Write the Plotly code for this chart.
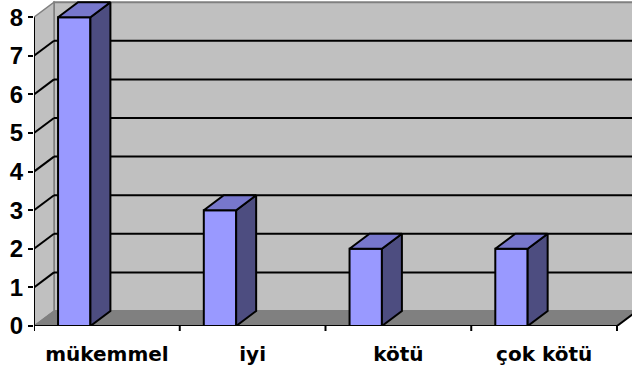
import plotly.graph_objects as go

# Survey results
categories = ["mükemmel", "iyi", "kötü", "çok kötü"]
values = [8, 3, 2, 2]
y_ticks = [0, 1, 2, 3, 4, 5, 6, 7, 8]

# Pseudo-3D geometry (data units)
DX = 0.1372      # depth offset along x
DY = 0.3883      # depth offset along y
BAR_OFFSET = -0.335
BAR_WIDTH = 0.222
X0, X1 = -0.5, 3.5
YMAX = max(y_ticks)

FRONT = "#9999FF"
SIDE = "#4D4D80"
TOP = "#7777CC"
WALL = "#C0C0C0"
FLOOR = "#808080"
CAT_FONT = dict(family="DejaVu Sans", size=20, color="black", weight="bold")
NUM_FONT = dict(family="Liberation Sans", size=24, color="black", weight="bold")

fig = go.Figure()

shapes = []
# back wall
shapes.append(dict(type="rect", xref="x", yref="y", layer="below",
                   x0=X0 + DX, x1=X1 + DX + 0.3, y0=DY, y1=YMAX + DY,
                   fillcolor=WALL, line=dict(color="#808080", width=2)))
# left side wall
shapes.append(dict(type="path", xref="x", yref="y", layer="below",
                   path=f"M {X0},0 L {X0+DX},{DY} L {X0+DX},{YMAX+DY} L {X0},{YMAX} Z",
                   fillcolor=WALL, line=dict(color="#808080", width=1.5)))
# floor
shapes.append(dict(type="path", xref="x", yref="y", layer="below",
                   path=f"M {X0},0 L {X1},0 L {X1+DX},{DY} L {X0+DX},{DY} Z",
                   fillcolor=FLOOR, line=dict(color="#808080", width=1)))
# gridlines on back and side walls
for v in y_ticks[1:-1]:
    shapes.append(dict(type="line", xref="x", yref="y", layer="below",
                       x0=X0 + DX, x1=X1 + DX + 0.3, y0=v + DY, y1=v + DY,
                       line=dict(color="black", width=2)))
    shapes.append(dict(type="line", xref="x", yref="y", layer="below",
                       x0=X0, x1=X0 + DX, y0=v, y1=v + DY,
                       line=dict(color="black", width=2)))
# front axes
shapes.append(dict(type="line", xref="x", yref="y", layer="above",
                   x0=X0, x1=X0, y0=0, y1=YMAX, line=dict(color="black", width=2)))
shapes.append(dict(type="line", xref="x", yref="y", layer="above",
                   x0=X0, x1=X1, y0=0, y1=0, line=dict(color="black", width=2)))
shapes.append(dict(type="line", xref="x", yref="y", layer="above",
                   x0=X1, x1=X1 + DX, y0=0, y1=DY, line=dict(color="black", width=2)))

# front faces of the bars
fig.add_trace(go.Bar(
    x=list(range(len(categories))), y=values,
    width=BAR_WIDTH, offset=BAR_OFFSET,
    marker=dict(color=FRONT, line=dict(color="black", width=2)),
    hoverinfo="skip", showlegend=False,
))

# side and top faces
for i, v in enumerate(values):
    xl = i + BAR_OFFSET
    xr = xl + BAR_WIDTH
    fig.add_trace(go.Scatter(
        x=[xr, xr + DX, xr + DX, xr, xr], y=[0, DY, v + DY, v, 0],
        fill="toself", fillcolor=SIDE, mode="lines",
        line=dict(color="black", width=2), hoverinfo="skip", showlegend=False,
    ))
    fig.add_trace(go.Scatter(
        x=[xl, xl + DX, xr + DX, xr, xl], y=[v, v + DY, v + DY, v, v],
        fill="toself", fillcolor=TOP, mode="lines",
        line=dict(color="black", width=2), hoverinfo="skip", showlegend=False,
    ))

fig.update_layout(
    width=632, height=374,
    margin=dict(l=34, r=0, t=0, b=48),
    paper_bgcolor="white", plot_bgcolor="white",
    shapes=shapes,
    showlegend=False,
    xaxis=dict(
        range=[X0, X0 + 598 / 145.75],
        tickmode="array", tickvals=list(range(len(categories))), ticktext=categories,
        ticks="", showgrid=False, zeroline=False, showline=False,
        tickfont=CAT_FONT, ticklabelstandoff=14,
    ),
    yaxis=dict(
        range=[0, 326 / 38.6],
        tickmode="array", tickvals=y_ticks, ticktext=[str(t) for t in y_ticks],
        ticks="outside", ticklen=5, tickwidth=2, tickcolor="black",
        showgrid=False, zeroline=False, showline=False,
        tickfont=NUM_FONT, ticklabelstandoff=0,
    ),
)

# category boundary ticks below the front axis
for b in [X0 + k for k in range(len(categories) + 1)]:
    fig.add_shape(type="line", xref="x", yref="paper", layer="above",
                  x0=b, x1=b, y0=0, y1=-5 / 326, line=dict(color="black", width=2))

fig.write_html("out.html")
